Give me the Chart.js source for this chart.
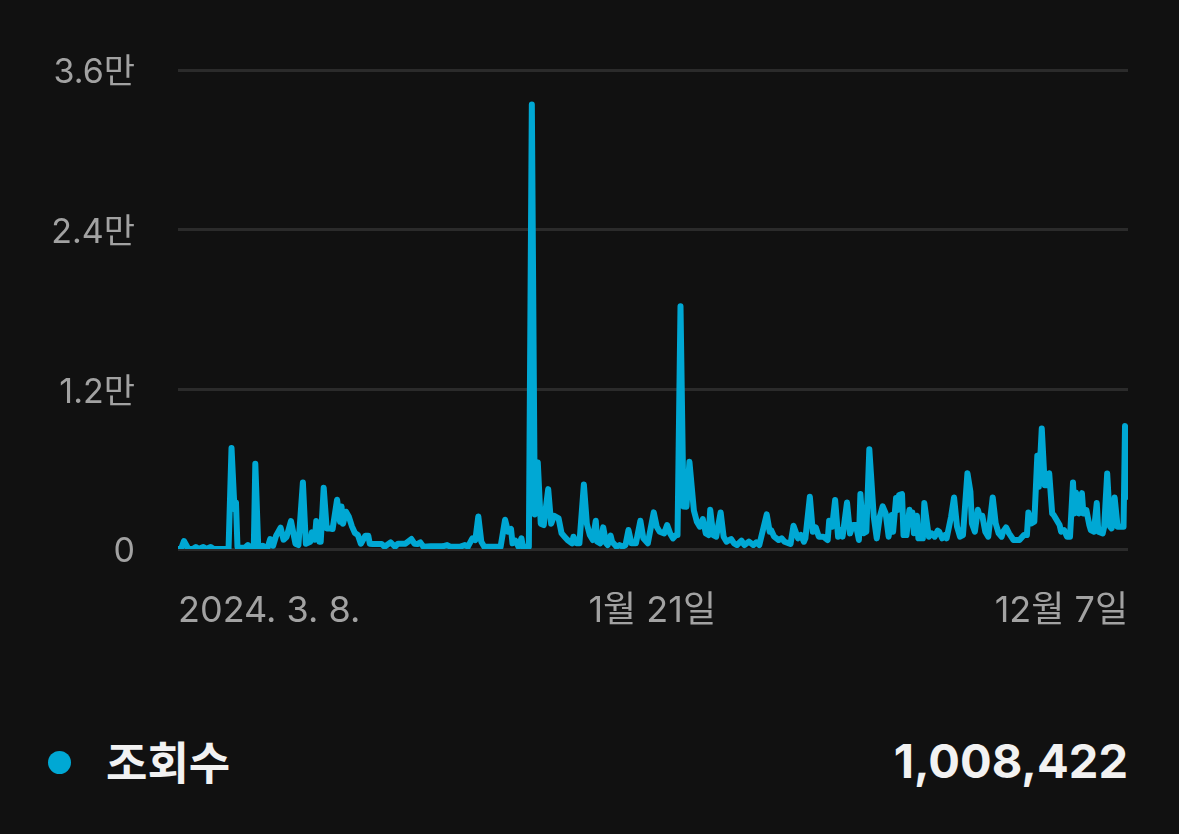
<!DOCTYPE html>
<html lang="ko">
<head>
<meta charset="utf-8">
<script src="https://cdn.jsdelivr.net/npm/chart.js@4/dist/chart.umd.min.js"></script>
<style>
  html, body { margin: 0; padding: 0; background: #111111; }
  body { width: 1179px; height: 834px; position: relative; overflow: hidden;
         font-family: Inter, 'Noto Sans CJK KR', sans-serif; }
  #wrap { position: absolute; left: 0; top: 0; width: 1179px; height: 660px; }
  .legend { position: absolute; left: 0; top: 730px; width: 1179px; height: 64px; }
  .dot { position: absolute; left: 48px; top: 21px; width: 23px; height: 23px; border-radius: 50%; background: #00a8d4; }
  .name { position: absolute; left: 106px; top: 4px; color: #f2f2f2; font-weight: 700; font-size: 45px; line-height: 60px; }
  .total { position: absolute; right: 51px; top: 1px; color: #f2f2f2; font-weight: 700; font-size: 47px; line-height: 60px; }
</style>
</head>
<body>
<div id="wrap"><canvas id="chart"></canvas></div>
<div class="legend">
  <div class="dot"></div>
  <div class="name">조회수</div>
  <div class="total">1,008,422</div>
</div>
<script>
// day index counted from 2024-03-08
const days = [
  0, 2, 4, 7, 10, 12, 14, 17, 19, 22, 24, 34, 36, 38, 39, 40, 41, 45, 47, 49,
  51, 52, 54, 57, 60, 62, 64, 66, 69, 71, 73, 76, 79, 81, 84, 86, 89, 90, 92, 93,
  95, 96, 98, 100, 102, 104, 107, 109, 110, 111, 113, 115, 117, 119, 121, 123, 126, 128, 129, 131,
  135, 137, 139, 143, 146, 148, 153, 157, 159, 161, 163, 165, 170, 178, 181, 183, 190, 193, 195, 198,
  200, 202, 204, 206, 217, 220, 222, 224, 225, 227, 229, 231, 232, 236, 238, 240, 242, 244, 246, 249,
  251, 253, 256, 258, 260, 262, 265, 266, 268, 270, 273, 275, 277, 279, 281, 282, 284, 286, 288, 289,
  291, 292, 295, 297, 299, 301, 303, 305, 308, 311, 313, 316, 320, 322, 324, 327, 329, 331, 333, 335,
  336, 338, 340, 342, 344, 347, 349, 351, 353, 355, 357, 358, 360, 362, 365, 367, 369, 372, 374, 376,
  379, 381, 384, 387, 389, 391, 396, 398, 399, 401, 404, 406, 408, 412, 414, 417, 419, 421, 422, 425,
  427, 429, 431, 434, 437, 438, 440, 442, 444, 446, 447, 450, 452, 454, 456, 458, 459, 461, 463, 465,
  468, 470, 472, 474, 476, 478, 480, 481, 483, 484, 485, 487, 488, 490, 492, 493, 494, 495, 497, 498,
  501, 502, 505, 507, 509, 511, 512, 514, 516, 517, 520, 522, 524, 526, 528, 531, 533, 534, 536, 538,
  539, 541, 543, 545, 548, 550, 552, 554, 555, 557, 559, 562, 564, 566, 569, 571, 572, 574, 576, 578,
  579, 581, 583, 585, 586, 588, 589, 591, 593, 594, 596, 598, 600, 602, 603, 604, 606, 608, 609, 611,
  613, 614, 616, 618, 619, 622, 623, 625, 627, 628, 630, 632, 634, 636, 637, 639
];
const views = [
  0, 0, 600, 0, 0, 150, 0, 150, 0, 150, 0, 0, 7600, 3000, 3500, 150, 100, 100, 300, 100,
  200, 6400, 100, 250, 0, 750, 250, 1000, 1600, 700, 900, 2100, 400, 300, 5000, 400, 550, 1250, 700, 2100,
  550, 550, 4600, 1550, 1550, 1500, 3700, 2050, 3200, 1900, 2800, 2400, 1700, 1200, 1050, 400, 1000, 1000, 400, 370,
  370, 370, 175, 500, 175, 400, 400, 750, 400, 375, 500, 175, 200, 200, 300, 175, 175, 300, 175, 800,
  675, 2450, 550, 175, 175, 2200, 1300, 1500, 425, 625, 175, 800, 175, 175, 33400, 2600, 6500, 1900, 1800, 4500,
  1900, 2500, 2300, 1175, 925, 675, 425, 925, 425, 425, 4850, 1900, 1050, 675, 2125, 550, 425, 1625, 425, 300,
  1000, 550, 175, 300, 175, 300, 1425, 425, 425, 2125, 800, 425, 2750, 1675, 1300, 1175, 1800, 1175, 800, 1050,
  1050, 18250, 3200, 3175, 6550, 2900, 2050, 1675, 2250, 1175, 1050, 2950, 1050, 925, 2750, 925, 550, 750, 425, 300,
  625, 300, 550, 300, 500, 300, 2600, 1300, 1400, 925, 675, 800, 550, 375, 1750, 800, 1050, 550, 800, 3925,
  1300, 1625, 925, 925, 675, 2125, 1675, 3675, 925, 1425, 925, 3500, 1175, 1800, 1800, 675, 4125, 1175, 1300, 7500,
  2425, 800, 2425, 3200, 2675, 925, 2550, 1300, 3825, 2925, 4050, 4125, 1050, 1050, 2950, 1925, 2750, 1175, 2500, 800,
  800, 3450, 925, 1175, 925, 1375, 1300, 800, 1050, 800, 2425, 3875, 1675, 925, 1050, 5700, 4300, 1925, 1300, 2950,
  2550, 2500, 1300, 925, 3875, 1925, 1175, 925, 1300, 1625, 1175, 675, 675, 675, 1050, 1050, 2750, 1925, 2050, 7000,
  4675, 9050, 4800, 4800, 5700, 2675, 2550, 2175, 1800, 1300, 1425, 925, 925, 5000, 2675, 4250, 2675, 4200, 2675, 2925,
  1800, 1425, 1300, 3450, 1300, 1175, 1675, 5675, 1675, 1550, 3875, 1675, 1675, 1675, 9250, 3925
];
const xTickDays = [0, 319, 639];
const xTickLabels = ['2024. 3. 8.', '1월 21일', '12월 7일'];
const yTickValues = [0, 12000, 24000, 36000];
const yTickLabels = ['0', '1.2만', '2.4만', '3.6만'];

const LINE_COLOR = '#00a8d4';
const TEXT_GREY = '#a2a2a2';

Chart.defaults.font.family = "Inter, 'Noto Sans CJK KR', sans-serif";

const ctx = document.getElementById('chart').getContext('2d');
new Chart(ctx, {
  type: 'line',
  data: {
    datasets: [{
      label: '조회수',
      data: days.map((d, i) => ({ x: d, y: views[i] })),
      borderColor: LINE_COLOR,
      borderWidth: 6,
      borderJoinStyle: 'round',
      borderCapStyle: 'round',
      pointRadius: 0,
      tension: 0,
      fill: false
    }]
  },
  options: {
    responsive: true,
    maintainAspectRatio: false,
    devicePixelRatio: 1,
    animation: false,
    layout: { padding: { top: 70, right: 51, left: 0, bottom: 0 } },
    plugins: { legend: { display: false }, tooltip: { enabled: false } },
    scales: {
      x: {
        type: 'linear',
        min: 0,
        max: 639,
        grid: { display: false, drawTicks: false },
        border: { display: false },
        afterBuildTicks: scale => { scale.ticks = xTickDays.map(v => ({ value: v })); },
        afterFit: scale => { scale.height = 111; },
        ticks: {
          align: 'inner',
          maxRotation: 0,
          autoSkip: false,
          padding: 41,
          color: TEXT_GREY,
          font: { size: 36 },
          callback: v => xTickLabels[xTickDays.indexOf(v)]
        }
      },
      y: {
        min: 0,
        max: 36000,
        grid: { color: '#2b2b2b', lineWidth: 3, drawTicks: false },
        border: { display: false },
        afterBuildTicks: scale => { scale.ticks = yTickValues.map(v => ({ value: v })); },
        afterFit: scale => { scale.width = 178; },
        ticks: {
          padding: 43,
          labelOffset: 3,
          color: TEXT_GREY,
          font: { size: 34 },
          callback: v => yTickLabels[yTickValues.indexOf(v)]
        }
      }
    }
  }
});
</script>
</body>
</html>
